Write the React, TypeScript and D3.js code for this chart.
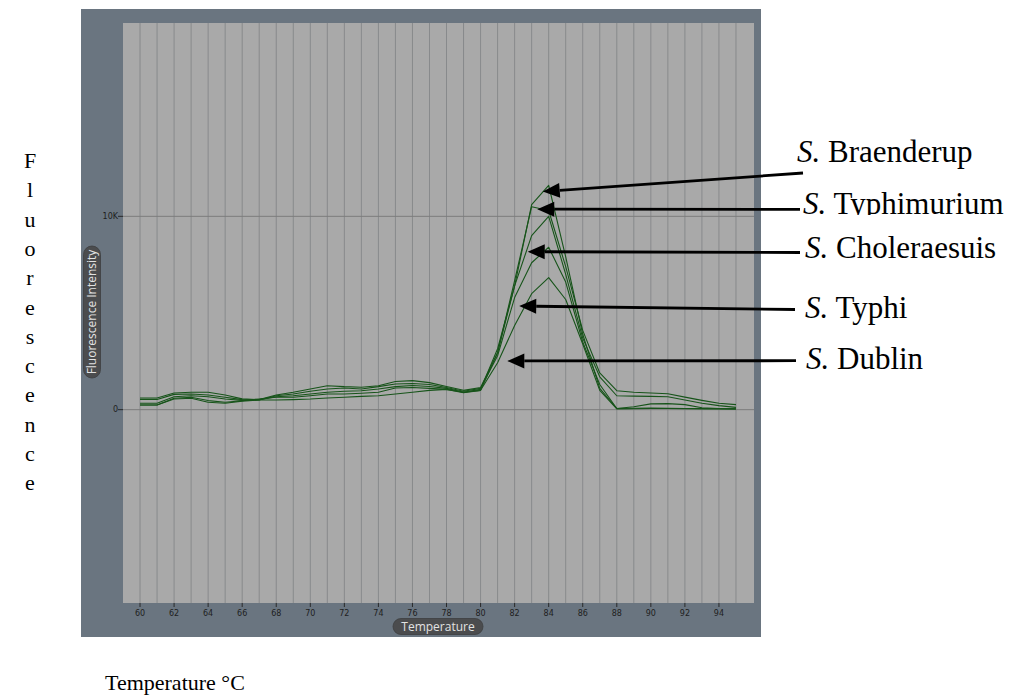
import React from "react";
import * as d3 from "d3";

// Melt temperatures (°C) sampled by the instrument
const temperatures = [60, 61, 62, 63, 64, 65, 66, 67, 68, 69, 70, 71, 72, 73, 74, 75, 76, 77, 78, 79, 80, 81, 82, 83, 84, 85, 86, 87, 88, 89, 90, 91, 92, 93, 94, 95];

// Fluorescence readings per serovar (one value per temperature above)
const braenderup = [330, 330, 670, 720, 670, 550, 480, 520, 670, 720, 810, 900, 950, 980, 1070, 1190, 1250, 1200, 1100, 900, 1050, 3150, 6400, 10600, 11600, 7900, 3900, 1100, 60, 70, 80, 70, 60, 60, 50, 50];
const typhimurium = [600, 600, 860, 900, 900, 760, 560, 520, 760, 900, 1070, 1240, 1190, 1160, 1240, 1460, 1500, 1400, 1200, 1000, 1150, 2950, 6670, 10500, 10300, 7400, 4100, 1900, 980, 900, 860, 820, 650, 480, 330, 260];
const choleraesuis = [530, 530, 790, 810, 760, 640, 520, 500, 720, 810, 950, 1070, 1120, 1070, 1190, 1330, 1350, 1300, 1150, 950, 1100, 2790, 5800, 7600, 8400, 6600, 3500, 1300, 60, 150, 300, 310, 260, 100, 60, 50];
const typhi = [240, 240, 590, 640, 470, 380, 460, 550, 640, 640, 720, 810, 810, 850, 900, 1120, 1150, 1100, 1050, 880, 1000, 2430, 4350, 6000, 6830, 5700, 3400, 1000, 40, 50, 60, 60, 50, 40, 40, 30];
const dublin = [240, 240, 550, 590, 380, 330, 440, 500, 500, 520, 550, 600, 640, 690, 720, 810, 900, 1000, 1050, 900, 1000, 2950, 6400, 9000, 10000, 7000, 3700, 1700, 720, 700, 690, 670, 500, 330, 210, 120];

const seriesList = [braenderup, typhimurium, choleraesuis, typhi, dublin];

// Axis ticks
const xTickValues = [60, 62, 64, 66, 68, 70, 72, 74, 76, 78, 80, 82, 84, 86, 88, 90, 92, 94];
const yTickValues = [0, 10000];
const yTickLabels = ["0", "10K"];

// Callouts: serovar name and the point on the curve the arrow points to
const calloutNames = ["Braenderup", "Typhimurium", "Choleraesuis", "Typhi", "Dublin"];
const calloutTipTemp = [83.65, 83.33, 82.77, 82.27, 81.57];
const calloutTipValue = [11280, 10370, 8170, 5360, 2520];

const sideLetters = "Fluorescence".split("");

const W = 1017;
const H = 696;

export default function App() {
  const plot = { left: 123, right: 753, top: 23, bottom: 603 };
  const x = d3.scaleLinear().domain([59, 96]).range([plot.left, plot.right]);
  const y = d3.scaleLinear().domain([-10000, 20000]).range([plot.bottom, plot.top]);

  const line = d3
    .line<number>()
    .x((_, i) => x(temperatures[i]))
    .y((d) => y(d));

  const gridTemps = d3.range(60, 96);

  // callout layout (text column on the right)
  const calloutTail = [
    [803, 173],
    [800, 209.3],
    [800, 252.5],
    [795, 309.5],
    [796, 360.7],
  ];
  const calloutTextX = [797, 803, 805, 805, 806];
  const calloutBaseline = [162, 214, 258, 318, 369];

  const arrow = (tx: number, ty: number, sx: number, sy: number) => {
    const ang = Math.atan2(ty - sy, tx - sx);
    const len = 17;
    const hw = 7.5;
    const bx = tx - len * Math.cos(ang);
    const by = ty - len * Math.sin(ang);
    const px = -Math.sin(ang) * hw;
    const py = Math.cos(ang) * hw;
    return {
      line: { x1: sx, y1: sy, x2: bx, y2: by },
      head: `${tx},${ty} ${bx + px},${by + py} ${bx - px},${by - py}`,
    };
  };

  const serif = "'Liberation Serif', 'Times New Roman', Times, serif";
  const sans = "'DejaVu Sans', Verdana, sans-serif";
  const pillFont = "'Open Sans', 'DejaVu Sans', sans-serif";

  return (
    <div style={{ position: "absolute", left: 0, top: 0 }}>
      <svg width={W} height={H} style={{ display: "block", background: "#ffffff" }}>
        <defs>
          <clipPath id="clipTyphimurium">
            <rect x={780} y={150} width={237} height={65} />
          </clipPath>
        </defs>

        {/* instrument panel */}
        <rect x={81} y={9} width={680} height={628} fill="#6a7580" />
        <rect x={plot.left} y={plot.top} width={plot.right - plot.left + 1} height={plot.bottom - plot.top} fill="#a9a9a9" />

        {/* vertical grid, one per degree */}
        {gridTemps.map((t) => (
          <line key={t} x1={x(t)} x2={x(t)} y1={plot.top} y2={plot.bottom} stroke="#888a8c" strokeWidth={1} />
        ))}

        {/* horizontal reference lines */}
        {yTickValues.map((v) => (
          <line key={v} x1={plot.left} x2={plot.right + 1} y1={y(v)} y2={y(v)} stroke="#7c7c7c" strokeWidth={1} />
        ))}

        {/* y ticks */}
        {yTickValues.map((v, i) => (
          <g key={"yt" + v}>
            <line x1={plot.left - 5} x2={plot.left} y1={y(v)} y2={y(v)} stroke="#2a2a2a" strokeWidth={1} />
            <text x={plot.left - 5} y={y(v) + 2.8} textAnchor="end" fontFamily={sans} fontSize={8} fill="#1e1e1e">
              {yTickLabels[i]}
            </text>
          </g>
        ))}

        {/* x ticks */}
        {xTickValues.map((t) => (
          <g key={"xt" + t}>
            <line x1={x(t)} x2={x(t)} y1={plot.bottom} y2={plot.bottom + 4} stroke="#2a2a2a" strokeWidth={1} />
            <text x={x(t)} y={plot.bottom + 12.5} textAnchor="middle" fontFamily={sans} fontSize={8} fill="#1e1e1e">
              {t}
            </text>
          </g>
        ))}

        {/* melt curves */}
        <g fill="none" stroke="#17541a" strokeWidth={1.1} strokeLinejoin="round">
          {seriesList.map((s, i) => (
            <path key={i} d={line(s) || ""} />
          ))}
        </g>

        {/* axis title pills */}
        <g transform={`translate(92,312) rotate(-90)`}>
          <rect x={-66} y={-8.5} width={132} height={17} rx={8.5} fill="#4b4c4e" stroke="#3e3f40" strokeWidth={0.8} />
          <text x={0} y={4.2} textAnchor="middle" fontFamily={pillFont} fontSize={12} fill="#e2e2e2">
            Fluorescence Intensity
          </text>
        </g>
        <g transform={`translate(${(plot.left + plot.right) / 2},626.5)`}>
          <rect x={-45} y={-8} width={90} height={16} rx={8} fill="#4b4c4e" stroke="#3e3f40" strokeWidth={0.8} />
          <text x={0} y={4.2} textAnchor="middle" fontFamily={pillFont} fontSize={12} fill="#e2e2e2">
            Temperature
          </text>
        </g>

        {/* callout arrows */}
        {calloutNames.map((name, i) => {
          const a = arrow(x(calloutTipTemp[i]), y(calloutTipValue[i]), calloutTail[i][0], calloutTail[i][1]);
          return (
            <g key={"ar" + name}>
              <line {...a.line} stroke="#000" strokeWidth={2.8} />
              <polygon points={a.head} fill="#000" />
            </g>
          );
        })}

        {/* callout labels */}
        {calloutNames.map((name, i) => (
          <text
            key={"lb" + name}
            x={calloutTextX[i]}
            y={calloutBaseline[i]}
            fontFamily={serif}
            fontSize={31}
            fill="#000"
            clipPath={name === "Typhimurium" ? "url(#clipTyphimurium)" : undefined}
          >
            <tspan fontStyle="italic">S.</tspan>
            <tspan> {name}</tspan>
          </text>
        ))}

        {/* page-side axis captions */}
        {sideLetters.map((ch, i) => (
          <text key={"sl" + i} x={30} y={168 + i * 29.3} textAnchor="middle" fontFamily={serif} fontSize={22} fill="#000">
            {ch}
          </text>
        ))}
        <text x={105} y={690} fontFamily={serif} fontSize={22} fill="#000">
          Temperature °C
        </text>
      </svg>
    </div>
  );
}
